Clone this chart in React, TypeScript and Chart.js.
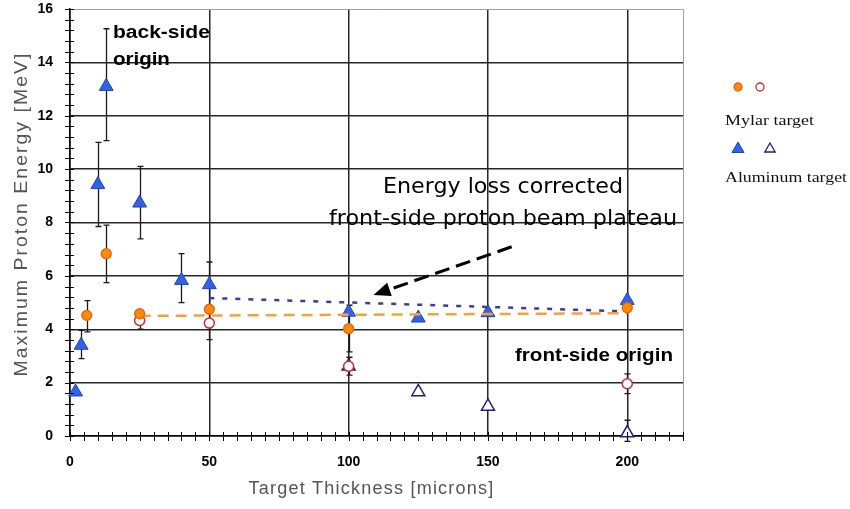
import React, { useEffect, useRef } from 'react';
import { Chart, registerables } from 'chart.js';

Chart.register(...registerables);

// ---------------- data ----------------
const mylarFilledX = [6, 13, 25, 50, 100, 200];
const mylarFilledY = [4.52, 6.83, 4.58, 4.75, 4.02, 4.81];
const mylarFilledLow = [3.9, 5.75, null, null, 3.15, null];
const mylarFilledHigh = [5.07, 7.9, null, null, 4.9, null];

const mylarOpenX = [25, 50, 100, 200];
const mylarOpenY = [4.33, 4.23, 2.61, 1.96];
const mylarOpenLow = [4.0, 3.61, 2.28, 1.59];
const mylarOpenHigh = [4.6, 4.85, 2.95, 2.33];

const alFilledX = [2, 4, 10, 13, 25, 40, 50, 100, 125, 150, 200];
const alFilledY = [1.65, 3.4, 9.42, 13.1, 8.73, 5.83, 5.67, 4.64, 4.42, 4.62, 5.08];
const alFilledLow = [null, 2.9, 7.85, 11.07, 7.39, 5.0, 4.82, null, null, null, null];
const alFilledHigh = [null, 3.96, 11.0, 15.26, 10.1, 6.83, 6.52, null, null, null, null];

const alOpenX = [100, 125, 150, 200];
const alOpenY = [2.61, 1.65, 1.11, 0.11];
const alOpenLow = [null, null, null, -0.2];
const alOpenHigh = [null, null, null, 0.59];

const plateauMylarX = [25, 200];
const plateauMylarY = [4.5, 4.6];
const plateauAlX = [50, 200];
const plateauAlY = [5.17, 4.67];

const xMajorStep = 50;
const xMinorStep = 5;
const yMajorStep = 2;
const yMinorStep = 0.4;

const xTitle = 'Target Thickness [microns]';
const yTitle = 'Maximum Proton Energy [MeV]';
const legendLabels = ['Mylar target', 'Aluminum target'];

// ---------------- styles ----------------
const C_ORANGE = '#FF8A00';
const C_ORANGE_EDGE = '#E2621E';
const C_RED = '#D22A2A';
const C_BLUE = '#3163E6';
const C_BLUE_EDGE = '#2242B4';
const C_NAVY = '#1E1E82';
const C_GRID = '#262626';
const SANS = '"Liberation Sans", Arial, sans-serif';
const SERIF = '"Liberation Serif", "Times New Roman", serif';
const DEJAVU = '"DejaVu Sans", Verdana, sans-serif';

function toPts(xs: number[], ys: number[]) {
  return xs.map((v, i) => ({ x: v, y: ys[i] }));
}

function drawFitText(
  ctx: CanvasRenderingContext2D,
  text: string,
  x: number,
  y: number,
  font: string,
  color: string,
  width: number,
  align: 'left' | 'center',
  spacing = 0
) {
  ctx.save();
  ctx.font = font;
  (ctx as any).letterSpacing = spacing + 'px';
  ctx.fillStyle = color;
  ctx.textBaseline = 'alphabetic';
  ctx.textAlign = 'left';
  const w = ctx.measureText(text).width;
  const sx = width / w;
  const left = align === 'center' ? x - width / 2 : x;
  ctx.translate(left, y);
  ctx.scale(sx, 1);
  ctx.fillText(text, 0, 0);
  ctx.restore();
}

function triPath(ctx: CanvasRenderingContext2D, cx: number, cy: number, r: number) {
  ctx.beginPath();
  ctx.moveTo(cx, cy - r);
  ctx.lineTo(cx + Math.sin(Math.PI / 3) * r, cy + r / 2);
  ctx.lineTo(cx - Math.sin(Math.PI / 3) * r, cy + r / 2);
  ctx.closePath();
}

const decorPlugin = {
  id: 'decor',
  beforeDatasetsDraw(chart: any) {
    const { ctx, scales } = chart;
    const xs = scales.x;
    const ys = scales.y;
    ctx.save();
    ctx.strokeStyle = '#1a1a1a';
    ctx.lineWidth = 1.3;
    const groups: [number[], (number | null)[], (number | null)[]][] = [
      [mylarFilledX, mylarFilledLow, mylarFilledHigh],
      [mylarOpenX, mylarOpenLow, mylarOpenHigh],
      [alFilledX, alFilledLow, alFilledHigh],
      [alOpenX, alOpenLow, alOpenHigh],
    ];
    groups.forEach(([gx, lo, hi]) => {
      gx.forEach((v, i) => {
        const l = lo[i];
        const h = hi[i];
        if (l == null || h == null) return;
        const px = Math.round(xs.getPixelForValue(v)) + 0.5;
        const pl = ys.getPixelForValue(l);
        const ph = ys.getPixelForValue(h);
        ctx.beginPath();
        ctx.moveTo(px, pl);
        ctx.lineTo(px, ph);
        ctx.moveTo(px - 3, pl);
        ctx.lineTo(px + 3, pl);
        ctx.moveTo(px - 3, ph);
        ctx.lineTo(px + 3, ph);
        ctx.stroke();
      });
    });
    ctx.restore();
  },
  afterDraw(chart: any) {
    const { ctx, scales, chartArea } = chart;
    const xs = scales.x;
    const ys = scales.y;
    ctx.save();

    // top / right frame (gray)
    ctx.strokeStyle = '#a0a0a0';
    ctx.lineWidth = 1;
    ctx.beginPath();
    ctx.moveTo(Math.round(chartArea.left), Math.round(chartArea.top) + 0.5);
    ctx.lineTo(Math.round(chartArea.right) + 0.5, Math.round(chartArea.top) + 0.5);
    ctx.lineTo(Math.round(chartArea.right) + 0.5, Math.round(chartArea.bottom));
    ctx.stroke();

    // minor/major cross ticks
    ctx.strokeStyle = '#000';
    ctx.lineWidth = 1;
    const ax = Math.round(xs.getPixelForValue(0));
    const ay = Math.round(ys.getPixelForValue(0));
    ctx.beginPath();
    for (let v = 0; v <= ys.max + 1e-6; v += yMinorStep) {
      const py = Math.round(ys.getPixelForValue(v)) + 0.5;
      ctx.moveTo(ax - 5, py);
      ctx.lineTo(ax + 4, py);
    }
    for (let v = 0; v <= xs.max + 1e-6; v += xMinorStep) {
      const px = Math.round(xs.getPixelForValue(v)) + 0.5;
      ctx.moveTo(px, ay - 4);
      ctx.lineTo(px, ay + 5);
    }
    ctx.stroke();

    // arrow
    const tx = xs.getPixelForValue(158.5);
    const ty = ys.getPixelForValue(7.09);
    const hx = xs.getPixelForValue(108.9);
    const hy = ys.getPixelForValue(5.28);
    const ang = Math.atan2(hy - ty, hx - tx);
    const headLen = 17;
    const headW = 7;
    const bx = hx - Math.cos(ang) * headLen;
    const by = hy - Math.sin(ang) * headLen;
    ctx.strokeStyle = '#000';
    ctx.lineWidth = 3;
    ctx.setLineDash([15, 7]);
    ctx.beginPath();
    ctx.moveTo(tx, ty);
    ctx.lineTo(bx, by);
    ctx.stroke();
    ctx.setLineDash([]);
    ctx.fillStyle = '#000';
    ctx.beginPath();
    ctx.moveTo(hx, hy);
    ctx.lineTo(bx + Math.sin(ang) * headW, by - Math.cos(ang) * headW);
    ctx.lineTo(bx - Math.sin(ang) * headW, by + Math.cos(ang) * headW);
    ctx.closePath();
    ctx.fill();

    // annotations
    drawFitText(ctx, 'back-side', xs.getPixelForValue(15.4), ys.getPixelForValue(14.91), `bold 18px ${SANS}`, '#000', 97, 'left');
    drawFitText(ctx, 'origin', xs.getPixelForValue(15.4), ys.getPixelForValue(13.92), `bold 18px ${SANS}`, '#000', 57, 'left');
    drawFitText(ctx, 'front-side origin', xs.getPixelForValue(159.7), ys.getPixelForValue(2.81), `bold 19px ${SANS}`, '#000', 158, 'left');
    drawFitText(ctx, 'Energy loss corrected', xs.getPixelForValue(155.4), ys.getPixelForValue(9.09), `22px ${DEJAVU}`, '#000', 240, 'center');
    drawFitText(ctx, 'front-side proton beam plateau', xs.getPixelForValue(155.4), ys.getPixelForValue(7.9), `22px ${DEJAVU}`, '#000', 348, 'center');

    // axis titles
    drawFitText(ctx, xTitle, (chartArea.left + chartArea.right) / 2 - 5, 494, `18px ${SANS}`, '#555', 246, 'center', 1.2);
    ctx.save();
    ctx.translate(27, 214);
    ctx.rotate(-Math.PI / 2);
    drawFitText(ctx, yTitle, 0, 0, `19px ${SANS}`, '#555', 325, 'center', 2);
    ctx.restore();

    // legend
    const lx = chartArea.right;
    ctx.lineWidth = 1.3;
    ctx.fillStyle = C_ORANGE;
    ctx.strokeStyle = C_ORANGE_EDGE;
    ctx.beginPath();
    ctx.arc(lx + 55, 87, 4, 0, Math.PI * 2);
    ctx.fill();
    ctx.stroke();
    ctx.fillStyle = '#fff';
    ctx.strokeStyle = C_RED;
    ctx.beginPath();
    ctx.arc(lx + 77, 87, 4, 0, Math.PI * 2);
    ctx.fill();
    ctx.stroke();
    drawFitText(ctx, legendLabels[0], lx + 42, 125, `15px ${SERIF}`, '#111', 89, 'left');

    ctx.fillStyle = C_BLUE;
    ctx.strokeStyle = C_BLUE_EDGE;
    ctx.lineWidth = 1;
    triPath(ctx, lx + 55, 149, 7);
    ctx.fill();
    ctx.stroke();
    ctx.fillStyle = '#fff';
    ctx.strokeStyle = C_NAVY;
    ctx.lineWidth = 1.3;
    triPath(ctx, lx + 87, 149, 6);
    ctx.fill();
    ctx.stroke();
    drawFitText(ctx, legendLabels[1], lx + 42, 182, `15px ${SERIF}`, '#111', 122, 'left');

    ctx.restore();
  },
};

export default function App() {
  const ref = useRef<HTMLCanvasElement | null>(null);

  useEffect(() => {
    if (!ref.current) return;
    const chart = new Chart(ref.current, {
      type: 'scatter',
      data: {
        datasets: [
          {
            label: 'Mylar target (filled)',
            data: toPts(mylarFilledX, mylarFilledY),
            pointStyle: 'circle',
            pointRadius: 5,
            backgroundColor: C_ORANGE,
            borderColor: C_ORANGE_EDGE,
            borderWidth: 1.3,
            order: 0,
            clip: false,
          },
          {
            label: 'Mylar target (open)',
            data: toPts(mylarOpenX, mylarOpenY),
            pointStyle: 'circle',
            pointRadius: 5,
            backgroundColor: '#ffffff',
            borderColor: C_RED,
            borderWidth: 1.5,
            order: 1,
            clip: false,
          },
          {
            type: 'line',
            label: 'Mylar plateau',
            data: toPts(plateauMylarX, plateauMylarY),
            borderColor: '#F2A33A',
            borderWidth: 2.5,
            borderDash: [11, 7],
            pointRadius: 0,
            fill: false,
            order: 2,
          },
          {
            type: 'line',
            label: 'Aluminum plateau',
            data: toPts(plateauAlX, plateauAlY),
            borderColor: '#3C3C9C',
            borderWidth: 2.5,
            borderDash: [5, 8],
            pointRadius: 0,
            fill: false,
            order: 3,
          },
          {
            label: 'Aluminum target (filled)',
            data: toPts(alFilledX, alFilledY),
            pointStyle: 'triangle',
            pointRadius: 8,
            backgroundColor: C_BLUE,
            borderColor: C_BLUE_EDGE,
            borderWidth: 1,
            order: 4,
            clip: false,
          },
          {
            label: 'Aluminum target (open)',
            data: toPts(alOpenX, alOpenY),
            pointStyle: 'triangle',
            pointRadius: 7.5,
            backgroundColor: '#ffffff',
            borderColor: C_NAVY,
            borderWidth: 1.5,
            order: 5,
            clip: false,
          },
        ] as any,
      },
      options: {
        animation: false,
        responsive: false,
        devicePixelRatio: 1,
        layout: { padding: { left: 0, top: 9, right: 167, bottom: 0 } },
        plugins: {
          legend: { display: false },
          tooltip: { enabled: false },
        },
        scales: {
          x: {
            type: 'linear',
            min: 0,
            max: 220,
            afterFit: (s: any) => {
              s.height = 73;
              s.paddingLeft = 0;
              s.paddingRight = 0;
              s.paddingTop = 0;
              s.paddingBottom = 0;
            },
            ticks: {
              stepSize: xMajorStep,
              padding: 18,
              color: '#000',
              font: { family: SANS, size: 14, weight: 'bold' },
              callback: (v: any) => (Number(v) % xMajorStep === 0 ? String(v) : ''),
            },
            grid: {
              drawTicks: false,
              lineWidth: 1.5,
              color: (c: any) => (c.tick && Number(c.tick.value) % xMajorStep === 0 ? C_GRID : 'rgba(0,0,0,0)'),
            },
            border: { display: true, color: '#000', width: 1.5 },
          },
          y: {
            type: 'linear',
            min: 0,
            max: 16,
            afterFit: (s: any) => {
              s.width = 70;
              s.paddingLeft = 0;
              s.paddingRight = 0;
              s.paddingTop = 0;
              s.paddingBottom = 0;
            },
            ticks: {
              stepSize: yMajorStep,
              padding: 17,
              color: '#000',
              font: { family: SANS, size: 14, weight: 'bold' },
            },
            grid: {
              drawTicks: false,
              lineWidth: 1.5,
              color: (c: any) => (c.tick && c.tick.value >= 16 ? 'rgba(0,0,0,0)' : C_GRID),
            },
            border: { display: true, color: '#000', width: 1.5 },
          },
        },
      } as any,
      plugins: [decorPlugin],
    });
    return () => chart.destroy();
  }, []);

  return (
    <div style={{ position: 'fixed', left: 0, top: 0, width: 850, height: 509, background: '#fff' }}>
      <canvas ref={ref} width={850} height={509} style={{ display: 'block' }} />
    </div>
  );
}
